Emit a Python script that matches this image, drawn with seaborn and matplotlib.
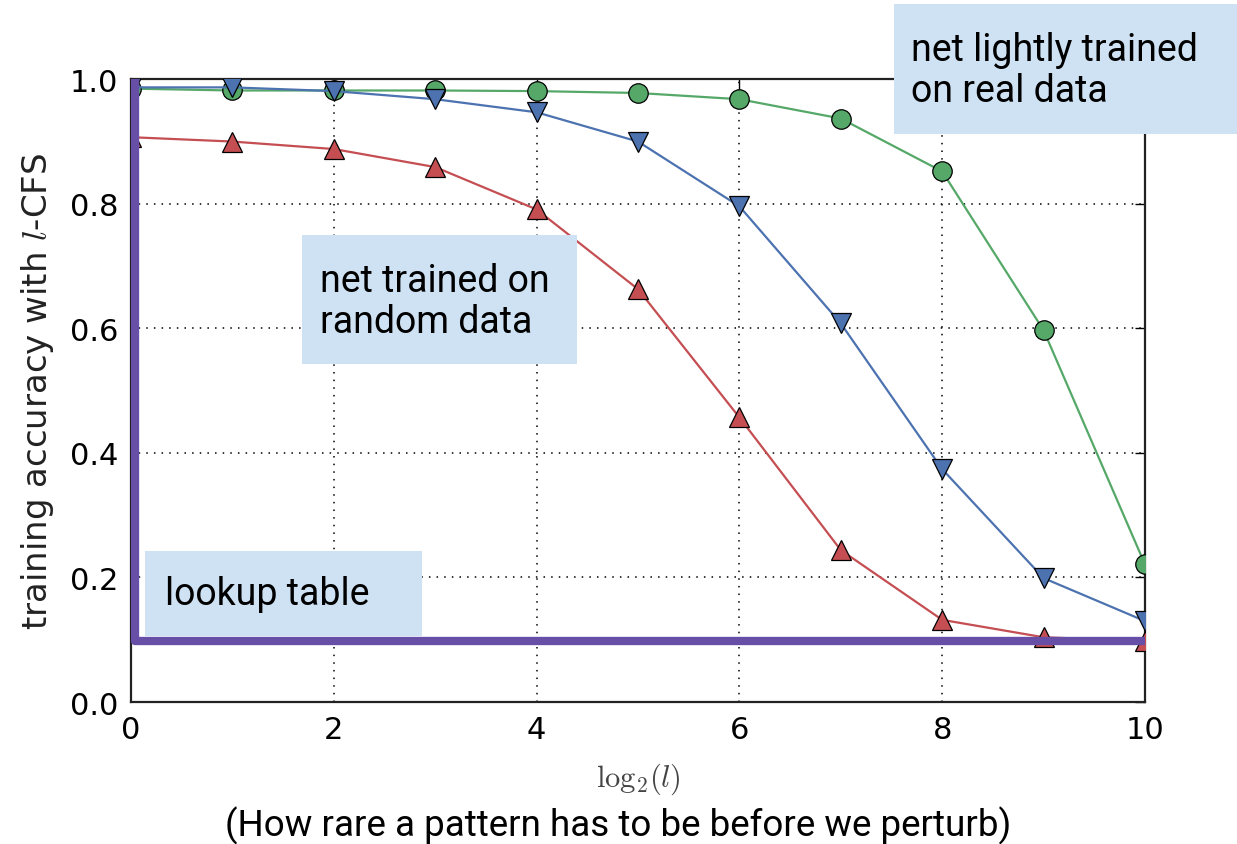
import pandas as pd
import seaborn as sns
import matplotlib.pyplot as plt
from matplotlib.patches import Rectangle

# values
log2_l = [0, 1, 2, 3, 4, 5, 6, 7, 8, 9, 10]
acc_real = [0.985, 0.982, 0.982, 0.982, 0.981, 0.978, 0.968, 0.937, 0.852, 0.597, 0.221]
acc_random = [0.987, 0.987, 0.981, 0.968, 0.947, 0.900, 0.796, 0.608, 0.374, 0.199, 0.130]
acc_third = [0.907, 0.900, 0.888, 0.859, 0.791, 0.663, 0.457, 0.244, 0.132, 0.104, 0.098]
lookup_x = [0.04, 0.04, 10]
lookup_y = [1.0, 0.098, 0.098]

series_colors = {"real": "#55a868", "random": "#4c72b0", "third": "#c44e52"}
series_markers = {"real": "o", "random": "v", "third": "^"}

df = pd.concat([
    pd.DataFrame({"x": log2_l, "acc": acc_third, "series": "third"}),
    pd.DataFrame({"x": log2_l, "acc": acc_real, "series": "real"}),
    pd.DataFrame({"x": log2_l, "acc": acc_random, "series": "random"}),
])

sns.set_style("white")
plt.rcParams["font.family"] = ["DejaVu Sans"]
plt.rcParams["mathtext.fontset"] = "cm"
plt.rcParams["text.color"] = "black"

fig = plt.figure(figsize=(12.37, 8.45), dpi=100)
ax = fig.add_axes([0.1059, 0.168, 0.8197, 0.737])

sns.lineplot(data=df, x="x", y="acc", hue="series", style="series",
             palette=series_colors, markers=series_markers, dashes=False,
             markersize=14, markeredgecolor="black", markeredgewidth=0.9,
             linewidth=1.6, legend=False, ax=ax, zorder=3)

# lookup table: straight down at the left edge, then flat
sns.lineplot(x=lookup_x, y=lookup_y, sort=False, estimator=None, color="#674ea7",
             linewidth=6, ax=ax, zorder=4)

ax.set_xlim(0, 10)
ax.set_ylim(0, 1.0)
ax.set_xticks([0, 2, 4, 6, 8, 10])
ax.set_yticks([0.0, 0.2, 0.4, 0.6, 0.8, 1.0])
ax.set_yticklabels(["0.0", "0.2", "0.4", "0.6", "0.8", "1.0"])
ax.grid(True, color="black", linestyle=(0, (1, 4)), linewidth=1.1)
ax.tick_params(direction="in", length=7, width=1, top=True, right=True,
               labelsize=22, pad=9, colors="black", labelcolor="black")
for s in ax.spines.values():
    s.set_visible(True)
    s.set_color("#222222")
    s.set_linewidth(1.6)

ax.set_xlabel(r"$\mathrm{log}_2(l)$", fontsize=22, color="#444444", labelpad=12)
ax.set_ylabel(r"training accuracy with $l$-CFS", fontsize=24.5, color="#222222", labelpad=10)

W, H = 1237, 845


def box(x0, y0, x1, y1):
    fig.patches.append(Rectangle((x0 / W, 1 - y1 / H), (x1 - x0) / W, (y1 - y0) / H,
                                 transform=fig.transFigure, facecolor="#cfe2f3",
                                 edgecolor="none", zorder=10))


def label(x, y, s):
    fig.text(x / W, 1 - y / H, s, fontsize=27, family=["Roboto", "DejaVu Sans"],
             color="black", ha="left", va="baseline", linespacing=1.15, zorder=11)


box(894, 5, 1237, 135)
label(911, 102, "net lightly trained\non real data")
box(302, 236, 577, 365)
label(320, 333, "net trained on\nrandom data")
box(145, 552, 422, 637)
label(165, 605, "lookup table")

fig.text(0.5, 1 - 836 / H, "(How rare a pattern has to be before we perturb)",
         fontsize=26.5, family=["Roboto", "DejaVu Sans"], color="black",
         ha="center", va="baseline")

fig.savefig("out.png", dpi=100)
